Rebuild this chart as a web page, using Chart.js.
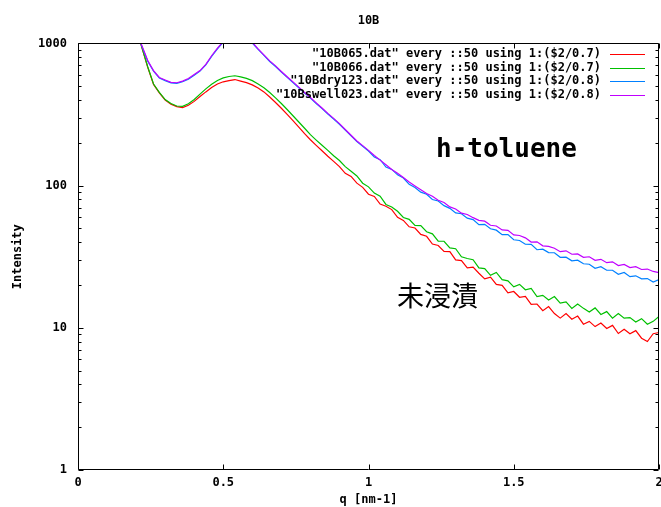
<!DOCTYPE html>
<html>
<head>
<meta charset="utf-8">
<script src="https://cdn.jsdelivr.net/npm/chart.js@4/dist/chart.umd.min.js"></script>
<style>
  html, body { margin: 0; padding: 0; background: #fff; }
  #grafica { display: block; }
</style>
</head>
<body>
<canvas id="grafica" width="661" height="507"></canvas>
<script>
// Curvas SAXS de la muestra 10B (datos leídos a ojo de la figura original)

// q [nm-1]
const q = [
  0.20, 0.22, 0.24, 0.26, 0.28, 0.30, 0.32, 0.34, 0.36, 0.38,
  0.40, 0.42, 0.44, 0.46, 0.48, 0.50, 0.52, 0.54, 0.56, 0.58,
  0.60, 0.62, 0.64, 0.66, 0.68, 0.70, 0.72, 0.74, 0.76, 0.78,
  0.80, 0.82, 0.84, 0.86, 0.88, 0.90, 0.92, 0.94, 0.96, 0.98,
  1.00, 1.02, 1.04, 1.06, 1.08, 1.10, 1.12, 1.14, 1.16, 1.18,
  1.20, 1.22, 1.24, 1.26, 1.28, 1.30, 1.32, 1.34, 1.36, 1.38,
  1.40, 1.42, 1.44, 1.46, 1.48, 1.50, 1.52, 1.54, 1.56, 1.58,
  1.60, 1.62, 1.64, 1.66, 1.68, 1.70, 1.72, 1.74, 1.76, 1.78,
  1.80, 1.82, 1.84, 1.86, 1.88, 1.90, 1.92, 1.94, 1.96, 1.98,
  2.00
];

// "10B065.dat" (rojo)
const i10B065 = [
  1300, 936, 680, 515, 449, 400, 374, 359, 354, 367,
  391, 423, 456, 489, 518, 537, 547, 557, 543, 530,
  511, 485, 456, 420, 384, 350, 317, 286, 258, 232,
  210, 192, 176, 161, 148, 136, 122, 116, 104, 97.2,
  87.0, 83.9, 74.1, 71.6, 67.8, 59.9, 56.9, 51.3, 50.3, 45.4,
  44.0, 38.8, 37.9, 34.5, 34.3, 30.0, 29.7, 26.4, 26.7, 24.2,
  22.1, 22.7, 20.2, 19.9, 17.6, 18.0, 16.4, 16.6, 14.6, 14.7,
  13.2, 14.1, 12.6, 11.7, 12.6, 11.5, 12.1, 10.6, 11.1, 10.2,
  10.8, 9.89, 10.4, 9.12, 9.76, 9.08, 9.55, 8.45, 8.01, 9.09,
  9.27
];

// "10B066.dat" (verde)
const i10B066 = [
  1300, 936, 685, 518, 452, 403, 378, 363, 361, 376,
  403, 440, 479, 516, 549, 572, 585, 592, 581, 567,
  547, 519, 488, 452, 414, 378, 343, 310, 280, 253,
  228, 209, 192, 177, 162, 150, 136, 126, 117, 104,
  98.0, 88.6, 84.2, 73.7, 70.8, 66.0, 59.7, 57.9, 52.4, 52.3,
  47.4, 45.8, 40.7, 40.6, 36.5, 36.0, 31.6, 30.7, 30.1, 26.4,
  26.1, 23.4, 24.5, 21.8, 21.4, 19.4, 20.2, 18.5, 18.9, 16.6,
  16.9, 15.7, 16.6, 14.9, 15.2, 13.7, 14.7, 13.7, 12.9, 13.8,
  12.4, 13.0, 11.7, 12.6, 11.7, 11.8, 11.0, 11.6, 10.6, 11.1,
  12.0
];

// "10Bdry123.dat" (azul)
const i10Bdry123 = [
  1210, 953, 750, 637, 570, 547, 528, 523, 538, 560,
  598, 638, 705, 811, 916, 1020, 1100, 1150, 1150, 1090,
  1005, 907, 823, 746, 688, 629, 577, 531, 488, 448,
  412, 378, 348, 319, 294, 270, 246, 224, 204, 189,
  175, 159, 152, 135, 130, 119, 113, 102, 97.1, 90.0,
  87.0, 79.9, 77.9, 72.3, 69.2, 64.2, 63.4, 59.0, 57.6, 53.1,
  53.4, 49.7, 48.6, 45.2, 45.2, 41.6, 41.1, 38.7, 38.6, 35.4,
  35.7, 33.8, 33.7, 31.3, 31.4, 29.6, 29.9, 28.2, 28.0, 26.2,
  26.9, 25.4, 25.4, 23.8, 24.5, 22.9, 23.2, 22.1, 22.2, 21.0,
  21.8
];

// "10Bswell023.dat" (morado)
const i10Bswell023 = [
  1220, 962, 758, 643, 576, 553, 532, 529, 543, 566,
  604, 644, 712, 819, 925, 1030, 1110, 1160, 1160, 1100,
  1015, 916, 831, 753, 695, 635, 583, 536, 493, 452,
  416, 382, 351, 322, 297, 273, 248, 226, 206, 191,
  177, 163, 151, 140, 130, 122, 114, 106, 99.5, 93.5,
  88.0, 84.3, 78.8, 76.0, 70.8, 68.5, 64.0, 62.6, 59.5, 57.0,
  56.2, 52.6, 52.0, 48.8, 48.5, 45.0, 44.6, 42.9, 40.1, 40.2,
  37.7, 37.4, 36.3, 34.3, 34.8, 32.9, 33.1, 31.3, 31.6, 29.8,
  30.3, 28.7, 29.1, 27.4, 27.9, 26.5, 26.9, 25.7, 25.9, 24.9,
  24.4
];

const etiquetas = [
  '"10B065.dat" every ::50 using 1:($2/0.7)',
  '"10B066.dat" every ::50 using 1:($2/0.7)',
  '"10Bdry123.dat" every ::50 using 1:($2/0.8)',
  '"10Bswell023.dat" every ::50 using 1:($2/0.8)'
];
const colores = ['#ff0000', '#00c000', '#0080ff', '#c000ff'];

const ticksX = [0, 0.5, 1, 1.5, 2];
const decadas = [1, 10, 100, 1000];
const ticksY = [1, 2, 3, 4, 5, 6, 7, 8, 9, 10, 20, 30, 40, 50, 60, 70, 80, 90,
                100, 200, 300, 400, 500, 600, 700, 800, 900, 1000];

const fuenteGnu = { family: '"DejaVu Sans Mono", monospace', size: 12, weight: 'bold' };

function puntos(serie) {
  return q.map((v, k) => ({ x: v, y: serie[k] }));
}

// sin relleno extra que Chart.js mete por las etiquetas de los extremos
function sinRelleno(s) {
  s.paddingLeft = 0;
  s.paddingRight = 0;
  s.paddingTop = 0;
  s.paddingBottom = 0;
}

// Marco, ticks hacia dentro, leyenda y rótulos a mano (estilo gnuplot)
const gnuplotPlugin = {
  id: 'gnuplot',
  afterDatasetsDraw(chart) {
    const { ctx, chartArea: a, scales: { x, y } } = chart;
    const L = Math.round(a.left) + 0.5, R = Math.round(a.right) - 0.5;
    const T = Math.round(a.top) + 0.5, B = Math.round(a.bottom) - 0.5;
    ctx.save();
    ctx.strokeStyle = '#000';
    ctx.lineWidth = 1;
    ctx.beginPath();
    ctx.rect(L, T, R - L, B - T);
    ticksX.forEach(v => {
      const px = Math.round(x.getPixelForValue(v)) + 0.5;
      ctx.moveTo(px, B); ctx.lineTo(px, B - 5);
      ctx.moveTo(px, T); ctx.lineTo(px, T + 5);
    });
    ticksY.forEach(v => {
      const py = Math.round(y.getPixelForValue(v)) + 0.5;
      const largo = decadas.includes(v) ? 5 : 3;
      ctx.moveTo(L, py); ctx.lineTo(L + largo, py);
      ctx.moveTo(R, py); ctx.lineTo(R - largo, py);
    });
    ctx.stroke();

    // leyenda arriba a la derecha
    ctx.font = 'bold 12px "DejaVu Sans Mono", monospace';
    ctx.fillStyle = '#000';
    ctx.textAlign = 'right';
    ctx.textBaseline = 'middle';
    etiquetas.forEach((txt, k) => {
      const fy = 54 + k * 13.5;
      ctx.fillText(txt, 601, fy);
      ctx.strokeStyle = colores[k];
      ctx.lineWidth = 1.2;
      ctx.beginPath();
      ctx.moveTo(610, Math.round(fy) + 0.5);
      ctx.lineTo(645, Math.round(fy) + 0.5);
      ctx.stroke();
    });

    // rótulos dentro de la gráfica
    ctx.textAlign = 'left';
    ctx.textBaseline = 'alphabetic';
    ctx.font = 'bold 26px "DejaVu Sans Mono", monospace';
    ctx.fillText('h-toluene', 436, 157);
    ctx.font = '27px "Noto Sans CJK JP", sans-serif';
    ctx.fillText('未浸漬', 397, 306);
    ctx.restore();
  }
};

new Chart(document.getElementById('grafica'), {
  type: 'line',
  data: {
    datasets: [
      { label: etiquetas[0], data: puntos(i10B065), borderColor: colores[0], order: 3 },
      { label: etiquetas[1], data: puntos(i10B066), borderColor: colores[1], order: 2 },
      { label: etiquetas[2], data: puntos(i10Bdry123), borderColor: colores[2], order: 1 },
      { label: etiquetas[3], data: puntos(i10Bswell023), borderColor: colores[3], order: 0 }
    ]
  },
  options: {
    responsive: false,
    animation: false,
    devicePixelRatio: 1,
    elements: {
      line: { borderWidth: 1.2, tension: 0, fill: false },
      point: { radius: 0 }
    },
    layout: { padding: { left: 0, top: 0, right: 2, bottom: 0 } },
    plugins: {
      legend: { display: false },
      tooltip: { enabled: false },
      title: {
        display: true,
        text: '10B',
        fullSize: false,
        color: '#000',
        font: fuenteGnu,
        padding: { top: 14, bottom: 15 }
      }
    },
    scales: {
      x: {
        type: 'linear',
        min: 0,
        max: 2,
        grid: { display: false, drawTicks: false },
        border: { display: false },
        afterBuildTicks: s => { s.ticks = ticksX.map(v => ({ value: v })); },
        afterFit: s => { s.height = 37; sinRelleno(s); },
        ticks: {
          color: '#000',
          font: fuenteGnu,
          padding: 6,
          maxRotation: 0,
          autoSkip: false,
          callback: v => String(v)
        },
        title: {
          display: true,
          text: 'q [nm-1]',
          color: '#000',
          font: fuenteGnu,
          padding: { top: 0, bottom: 0 }
        }
      },
      y: {
        type: 'logarithmic',
        min: 1,
        max: 1000,
        grid: { display: false, drawTicks: false },
        border: { display: false },
        afterBuildTicks: s => { s.ticks = ticksY.map(v => ({ value: v })); },
        afterFit: s => { s.width = 78; sinRelleno(s); },
        ticks: {
          color: '#000',
          font: fuenteGnu,
          padding: 11,
          autoSkip: false,
          callback: v => decadas.includes(v) ? String(v) : ''
        },
        title: {
          display: true,
          text: 'Intensity',
          color: '#000',
          font: fuenteGnu,
          padding: { top: 11, bottom: 0 }
        }
      }
    }
  },
  plugins: [gnuplotPlugin]
});
</script>
</body>
</html>
